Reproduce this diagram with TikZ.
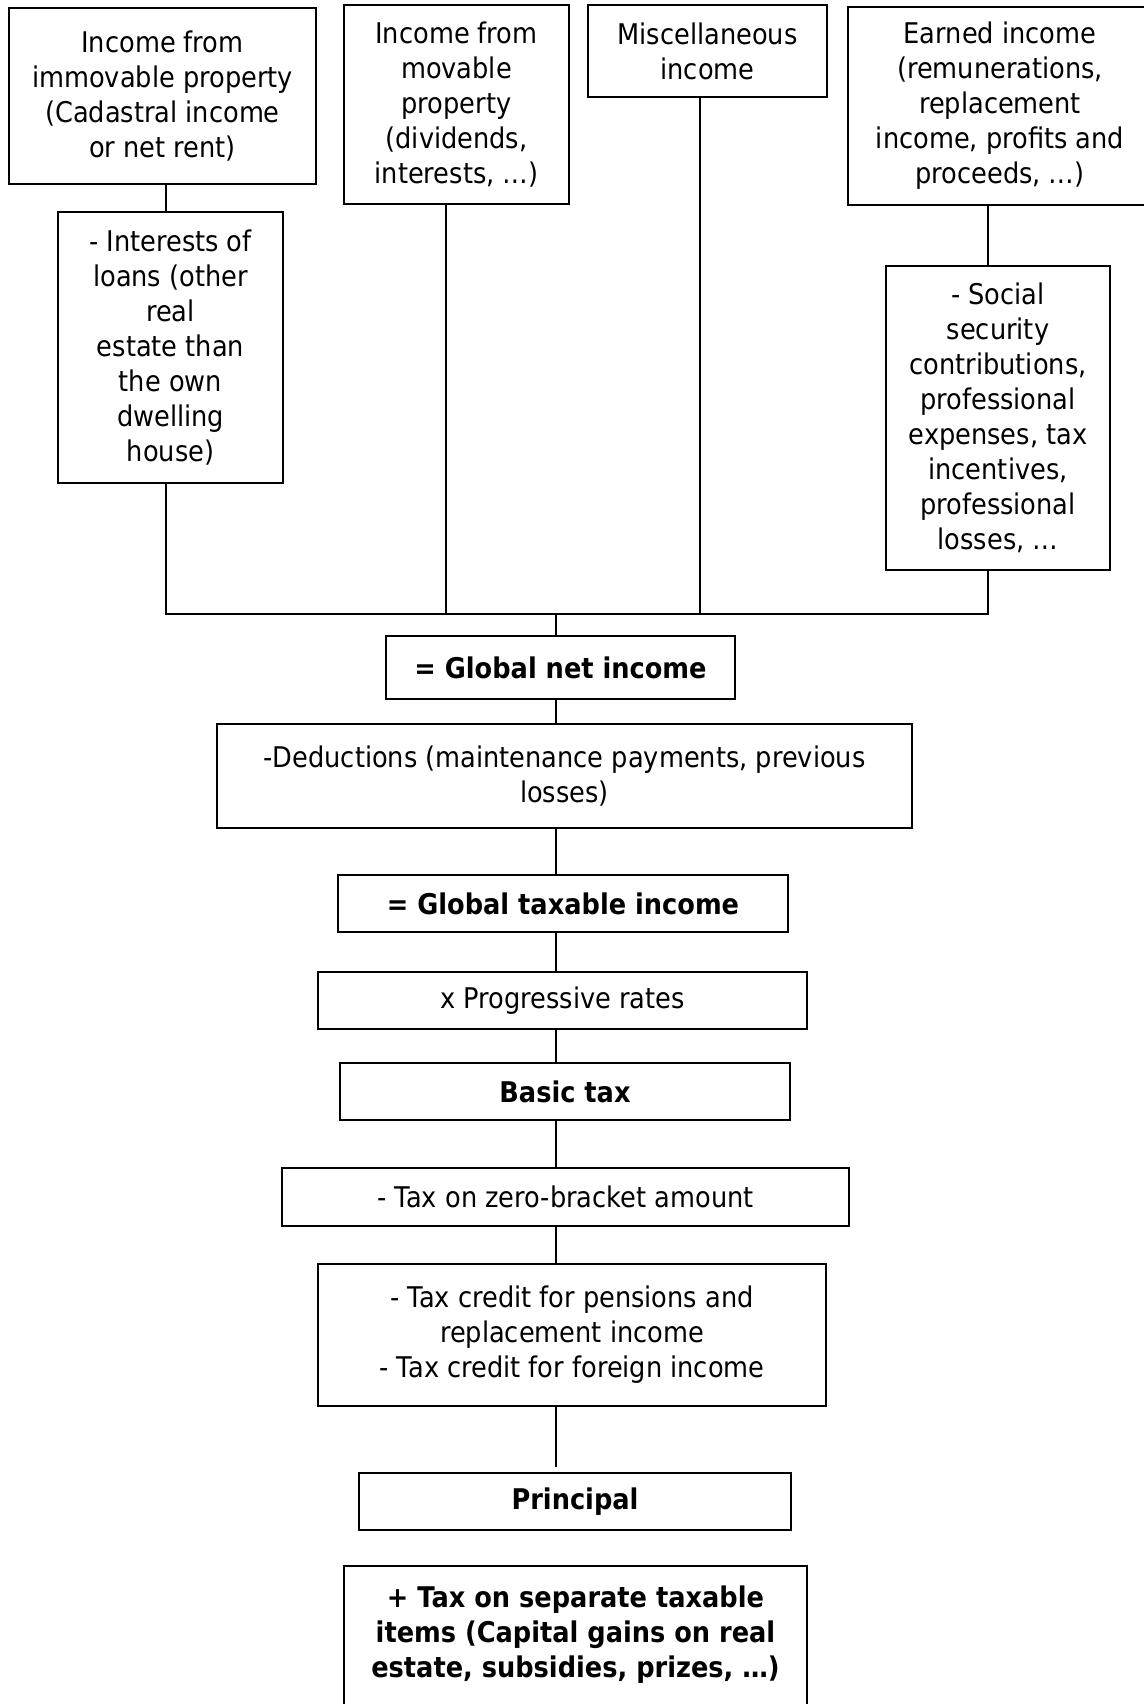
\documentclass[tikz,border=0pt]{standalone}
\usepackage{fontspec}
\setmainfont{DejaVu Sans}[FakeStretch=0.9]
\begin{document}
\begin{tikzpicture}[
  x=0.5pt, y=-0.5pt,
  box/.style={draw, line width=0.9pt, align=center, inner sep=0pt,
    font=\fontsize{14.25pt}{17.5pt}\selectfont},
  total/.style={box, font=\fontsize{14.25pt}{17.5pt}\selectfont\bfseries},
  wire/.style={line width=0.8pt}
]
\clip (0,0) rectangle (1144,1704);
% income categories
\node[box, minimum width=153.5pt, minimum height=88pt] (immov) at (162.5,96)
  {Income from\\immovable property\\(Cadastral income\\or net rent)};
\node[box, minimum width=112.5pt, minimum height=135.5pt] (loans) at (170.5,347.5)
  {- Interests of\\loans (other\\real\\estate than\\the own\\dwelling\\house)};
\node[box, minimum width=112.5pt, minimum height=99.5pt] (movable) at (456.5,104.5)
  {Income from\\movable\\property\\(dividends,\\interests, …)};
\node[box, minimum width=119.5pt, minimum height=46pt] (misc) at (707.5,51)
  {Miscellaneous\\income};
\node[box, minimum width=152pt, minimum height=99pt] (earned) at (1000,106)
  {Earned income\\(remunerations,\\replacement\\income, profits and\\proceeds, …)};
\node[box, minimum width=112pt, minimum height=152pt] (social) at (998,418)
  {- Social\\security\\contributions,\\professional\\expenses, tax\\incentives,\\professional\\losses, …};
% computation chain
\node[total, minimum width=174.5pt, minimum height=31.5pt] (net) at (560.5,667.5)
  {= Global net income};
\node[box, minimum width=347.5pt, minimum height=52pt] (deduct) at (564.5,776)
  {-Deductions (maintenance payments, previous\\losses)};
\node[total, minimum width=225pt, minimum height=28.5pt] (taxable) at (563,903.5)
  {= Global taxable income};
\node[box, minimum width=244.5pt, minimum height=28.5pt] (rates) at (562.5,1000.5)
  {x Progressive rates};
\node[total, minimum width=225pt, minimum height=28.5pt] (basic) at (565,1091.5)
  {Basic tax};
\node[box, minimum width=283.5pt, minimum height=29pt] (zero) at (565.5,1197)
  {- Tax on zero-bracket amount};
\node[box, minimum width=254pt, minimum height=71pt] (credits) at (572,1335)
  {- Tax credit for pensions and\\replacement income\\- Tax credit for foreign income};
\node[total, minimum width=216pt, minimum height=28.5pt] (principal) at (575,1501.5)
  {Principal};
\node[total, minimum width=231.5pt, minimum height=76pt, text depth=10pt] (separate) at (575.5,1642)
  {+ Tax on separate taxable\\items (Capital gains on real\\estate, subsidies, prizes, …)};
% connectors
\coordinate (bus) at (556,614);
\coordinate (colA) at (166,614);
\coordinate (colB) at (446,614);
\coordinate (colC) at (700,614);
\coordinate (colD) at (988,614);
\coordinate (pstop) at ([yshift=2.5pt]principal.north);
\draw[wire] (immov.south -| colA) -- (loans.north -| colA);
\draw[wire] (earned.south -| colD) -- (social.north -| colD);
\draw[wire] (loans.south -| colA) -- (colA) -- (colD) -- (social.south -| colD);
\draw[wire] (movable.south -| colB) -- (colB);
\draw[wire] (misc.south -| colC) -- (colC);
\draw[wire] (bus) -- (net.north -| bus);
\foreach \a/\b in {net/deduct, deduct/taxable, taxable/rates, rates/basic, basic/zero, zero/credits}
  \draw[wire] (\a.south -| bus) -- (\b.north -| bus);
\draw[wire] (credits.south -| bus) -- (pstop -| bus);
\end{tikzpicture}
\end{document}
